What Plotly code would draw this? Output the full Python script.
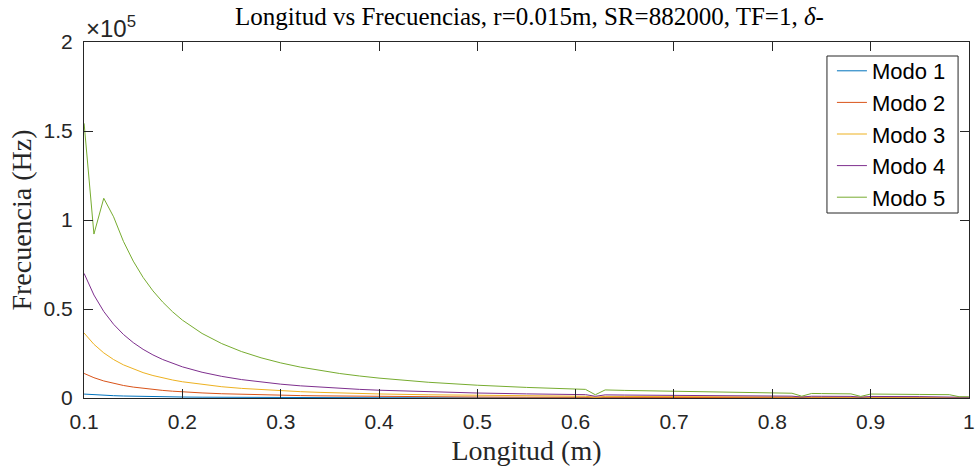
import plotly.graph_objects as go

# Longitud (m)
longitud = [0.10, 0.11, 0.12, 0.13, 0.14, 0.15, 0.16, 0.17, 0.18, 0.19, 0.20,
            0.22, 0.24, 0.26, 0.28, 0.30, 0.32, 0.34, 0.36, 0.38, 0.40,
            0.45, 0.50, 0.55, 0.60, 0.61, 0.62, 0.63, 0.65, 0.70, 0.75, 0.80,
            0.82, 0.83, 0.84, 0.85, 0.88, 0.89, 0.90, 0.95, 0.98, 0.99, 1.00]

modo1 = [2200, 1818, 1528, 1302, 1122, 978, 859, 761, 679, 609, 550,
         455, 382, 325, 281, 244, 215, 190, 170, 152, 138,
         109, 88, 73, 61, 59, 5, 55, 52, 45, 39, 34,
         33, 5, 31, 30, 28, 5, 27, 24, 23, 5, 5]

modo2 = [13800, 11405, 9583, 8166, 7041, 6133, 5391, 4775, 4259, 3823, 3450,
         2851, 2396, 2041, 1760, 1533, 1348, 1194, 1065, 956, 863,
         681, 552, 456, 383, 371, 57, 348, 327, 282, 245, 216,
         205, 32, 196, 191, 178, 28, 170, 153, 144, 22, 22]

modo3 = [36500, 30165, 25347, 21598, 18622, 16222, 14258, 12630, 11265, 10111, 9125,
         7541, 6337, 5399, 4656, 4056, 3564, 3157, 2816, 2528, 2281,
         1802, 1460, 1207, 1014, 981, 359, 920, 864, 745, 649, 570,
         543, 200, 517, 505, 471, 174, 451, 404, 380, 141, 138]

modo4 = [70000, 57851, 48611, 41420, 35714, 31111, 27344, 24221, 21605, 19391, 17500,
         14463, 12153, 10355, 8929, 7778, 6836, 6055, 5401, 4848, 4375,
         3457, 2800, 2314, 1944, 1881, 950, 1764, 1657, 1429, 1244, 1094,
         1041, 530, 992, 969, 904, 461, 864, 776, 729, 372, 365]

modo5 = [154300, 92100, 112200, 101800, 88010, 76890, 67770, 60210, 53860, 48420, 43750,
         36260, 30560, 26110, 22580, 19720, 17360, 15400, 13760, 12370, 11180,
         8850, 7180, 5944, 5000, 4837, 1821, 4535, 4260, 3673, 3200, 2813,
         2677, 1016, 2551, 2491, 2324, 884, 2222, 1994, 1874, 714, 700]

series_names = ["Modo 1", "Modo 2", "Modo 3", "Modo 4", "Modo 5"]
series_values = [modo1, modo2, modo3, modo4, modo5]
colors = ["#0072BD", "#D95319", "#EDB120", "#7E2F8E", "#77AC30"]

x_tick_vals = [0.1, 0.2, 0.3, 0.4, 0.5, 0.6, 0.7, 0.8, 0.9, 1.0]
x_tick_text = ["0.1", "0.2", "0.3", "0.4", "0.5", "0.6", "0.7", "0.8", "0.9", "1"]
y_tick_vals = [0, 50000, 100000, 150000, 200000]
y_tick_text = ["0", "0.5", "1", "1.5", "2"]

title_text = "Longitud vs Frecuencias, r=0.015m, SR=882000, TF=1, <i>δ</i>-"

fig = go.Figure()
for name, vals, col in zip(series_names, series_values, colors):
    fig.add_trace(go.Scatter(x=longitud, y=vals, mode="lines", name=name,
                             line=dict(color=col, width=1)))

axis_col = "#262626"
serif = "Liberation Serif, Times New Roman, serif"
sans = "Liberation Sans, Arial, sans-serif"

W, H = 980, 470
L, R, T, B = 84, 5, 42, 72
pw, ph = W - L - R, H - T - B


def px_to_paper_x(px):
    return (px - L) / pw


def px_to_paper_y(py):
    return (H - B - py) / ph


fig.update_layout(
    width=W, height=H,
    margin=dict(l=L, r=R, t=T, b=B),
    paper_bgcolor="white", plot_bgcolor="white",
    title=dict(text=title_text, x=(L + W - R) / 2 / W, xanchor="center",
               y=1 - 16 / H, yanchor="middle",
               font=dict(family=serif, size=25, color="black")),
    showlegend=True,
    legend=dict(x=px_to_paper_x(837), xanchor="left",
                y=px_to_paper_y(50), yanchor="top",
                bgcolor="rgba(0,0,0,0)", borderwidth=0,
                font=dict(family=sans, size=22, color="black"),
                itemwidth=30, tracegroupgap=0),
    xaxis=dict(range=[0.0999, 1.0001], tickvals=x_tick_vals, ticktext=x_tick_text,
               showgrid=False, zeroline=False, showline=True, mirror="ticks",
               linecolor=axis_col, linewidth=1, ticks="inside", ticklen=9,
               tickcolor=axis_col, tickwidth=1, ticklabelstandoff=5,
               ticklabeloverflow="allow",
               tickfont=dict(family=sans, size=21, color=axis_col),
               title=dict(text="Longitud (m)", standoff=8,
                          font=dict(family=serif, size=28, color=axis_col))),
    yaxis=dict(range=[0, 200000], tickvals=y_tick_vals, ticktext=y_tick_text,
               showgrid=False, zeroline=False, showline=True, mirror="ticks",
               linecolor=axis_col, linewidth=1, ticks="inside", ticklen=9,
               tickcolor=axis_col, tickwidth=1, ticklabelstandoff=6,
               tickfont=dict(family=sans, size=21, color=axis_col),
               title=dict(text="Frecuencia (Hz)", standoff=3,
                          font=dict(family=serif, size=28, color=axis_col))),
)

# legend frame
fig.add_shape(type="rect", xref="paper", yref="paper",
              x0=px_to_paper_x(832), x1=px_to_paper_x(964),
              y0=px_to_paper_y(213), y1=px_to_paper_y(56),
              line=dict(color=axis_col, width=1), fillcolor="white", layer="above")

fig.add_annotation(text="×10<sup>5</sup>", xref="paper", yref="paper",
                   x=0, y=1, xanchor="left", yanchor="bottom", showarrow=False,
                   font=dict(family=sans, size=24, color=axis_col), yshift=-2)

fig.write_html("out.html")
